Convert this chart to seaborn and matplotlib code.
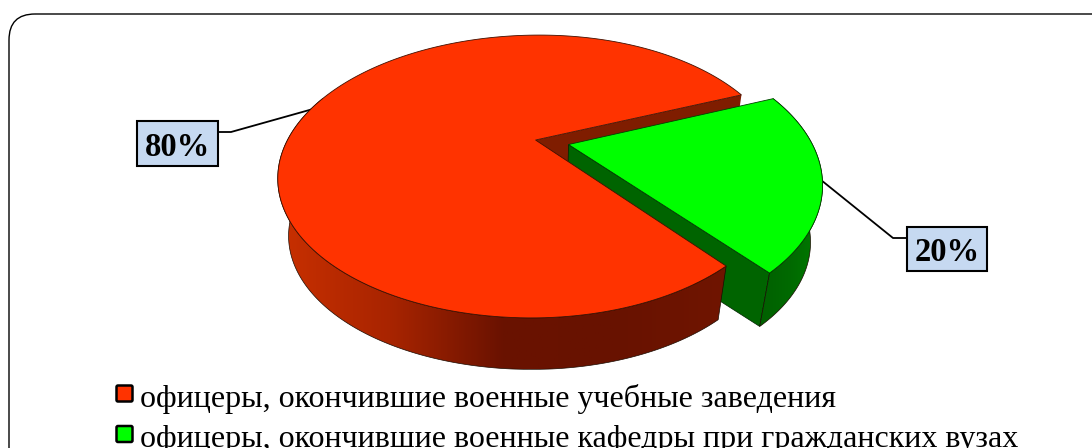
import numpy as np
import matplotlib
matplotlib.use("Agg")
import matplotlib.pyplot as plt
from matplotlib.colors import LinearSegmentedColormap
from matplotlib.patches import FancyBboxPatch, Polygon, Rectangle
import seaborn as sns

categories = ["офицеры, окончившие военные учебные заведения",
              "офицеры, окончившие военные кафедры при гражданских вузах"]
shares = [80, 20]
share_labels = ["80%", "20%"]
top_colors = ["#ff3300", "#00ff00"]
wall_colors = ["#7f1d00", "#006400"]

sns.set_theme(style="white")
plt.rcParams["font.family"] = ["Liberation Serif", "DejaVu Serif"]

W, H = 1092, 448
fig = plt.figure(figsize=(W / 100, H / 100), dpi=100, facecolor="white")
ax = fig.add_axes([0, 0, 1, 1])

CX, CY, A, B, K = 535.5, 140.0, 248.0, 132.0, 0.258
RIGHT_FACTOR, SHEAR = 0.975, 4.0
SCALE, DROP = 0.958, 59.0
START = 22.0
EXPLODE = 0.14


def project(x, y, bottom=False):
    x = np.asarray(x, dtype=float)
    y = np.asarray(y, dtype=float)
    w = 1 - K * y
    sx = A * x / w * np.where(x > 0, RIGHT_FACTOR, 1.0) - SHEAR * y
    sy = B * y / w
    if bottom:
        return CX + SCALE * sx, CY + SCALE * sy + DROP
    return CX + sx, CY + sy


def arc(a0, a1, off=(0, 0), bottom=False, n=200):
    t = np.radians(np.linspace(a0, a1, n))
    sx, sy = project(np.cos(t) + off[0], -np.sin(t) + off[1], bottom)
    return np.column_stack([sx, sy])


def gradient_fill(pts, stops, zorder):
    poly = Polygon(pts, closed=True, fc="none", ec="#1a0a00", lw=0.5, zorder=zorder + 0.1)
    ax.add_patch(poly)
    cmap = LinearSegmentedColormap.from_list("g", stops)
    x0, x1 = pts[:, 0].min(), pts[:, 0].max()
    y0, y1 = pts[:, 1].min(), pts[:, 1].max()
    im = ax.imshow(np.linspace(0, 1, 256)[None, :], cmap=cmap, aspect="auto",
                   extent=(x0, x1, y1, y0), zorder=zorder)
    im.set_clip_path(poly)


green_span = 360 * shares[1] / sum(shares)
g0, g1 = START - green_span, START
r0, r1 = START - 360, START - green_span
mid = np.radians((g0 + g1) / 2)
off = (EXPLODE * np.cos(mid), -EXPLODE * np.sin(mid))

# red cut wall (behind green piece)
p_top = np.array(project(0.0, 0.0), dtype=float)
p_bot = np.array(project(0.0, 0.0, True), dtype=float)
e_top = arc(START, START, n=1)[0]
e_bot = arc(START, START, bottom=True, n=1)[0]
ax.add_patch(Polygon([p_top, e_top, e_bot, p_bot], fc=wall_colors[0], ec="none", zorder=2))

# green cut wall + rim
ga_top = np.array(project(off[0], off[1]), dtype=float)
ga_bot = np.array(project(off[0], off[1], True), dtype=float)
ge_top = arc(g0, g0, off, n=1)[0]
ge_bot = arc(g0, g0, off, True, n=1)[0]
ax.add_patch(Polygon([ga_top, ge_top, ge_bot, ga_bot], fc=wall_colors[1], ec="#002000", lw=0.5, zorder=3))
g_rim = np.vstack([arc(g0, g1, off), arc(g1, g0, off, True)])
gradient_fill(g_rim, ["#006000", "#006a00", "#007c00"], 3.2)

# red rim (only its near side can be seen)
r_rim = np.vstack([arc(-200, r1), arc(r1, -200, bottom=True)])
gradient_fill(r_rim, ["#c93000", "#a82400", "#6a1200", "#681200", "#701500"], 4)

# top faces
red_face = np.vstack([[p_top], arc(r0, r1)])
ax.add_patch(Polygon(red_face, fc=top_colors[0], ec="#401000", lw=0.6, zorder=5))
green_face = np.vstack([[ga_top], arc(g0, g1, off)])
ax.add_patch(Polygon(green_face, fc=top_colors[1], ec="#004000", lw=0.6, zorder=6))

# outer frame
ax.add_patch(FancyBboxPatch((9, 14), 1300, 700, boxstyle="round,pad=0,rounding_size=26",
                            fc="none", ec="black", lw=1.0, zorder=1))

# leaders
ax.plot([218, 231, 313], [132, 132, 109], color="black", lw=1.3, zorder=4.5, solid_capstyle="butt")
ax.plot([821, 893, 907], [180, 238, 238], color="black", lw=1.3, zorder=4.5, solid_capstyle="butt")

# data labels
for label, (x0, y0, x1, y1) in zip(share_labels, [(137, 121, 218, 166), (907, 227, 987, 271)]):
    ax.add_patch(Rectangle((x0, y0), x1 - x0, y1 - y0, fc="#c6d9f1", ec="black", lw=1.5, zorder=7))
    ax.text((x0 + x1) / 2, (y0 + y1) / 2 + 3.5, label, ha="center", va="center",
            fontsize=23.5, fontweight="bold", color="black", zorder=8)

# legend
for name, col, my, ty in zip(categories, top_colors, [393.5, 434], [406.5, 446.5]):
    ax.add_patch(FancyBboxPatch((116.5, my - 8), 16, 16, boxstyle="round,pad=0,rounding_size=1.5",
                                fc=col, ec="black", lw=1.8, zorder=7))
    ax.text(140, ty, name, ha="left", va="baseline", fontsize=23, color="black", zorder=8)

ax.set_xlim(0, W)
ax.set_ylim(H, 0)
ax.set_aspect("auto")
ax.axis("off")
fig.savefig("out.png", dpi=100, facecolor="white")
